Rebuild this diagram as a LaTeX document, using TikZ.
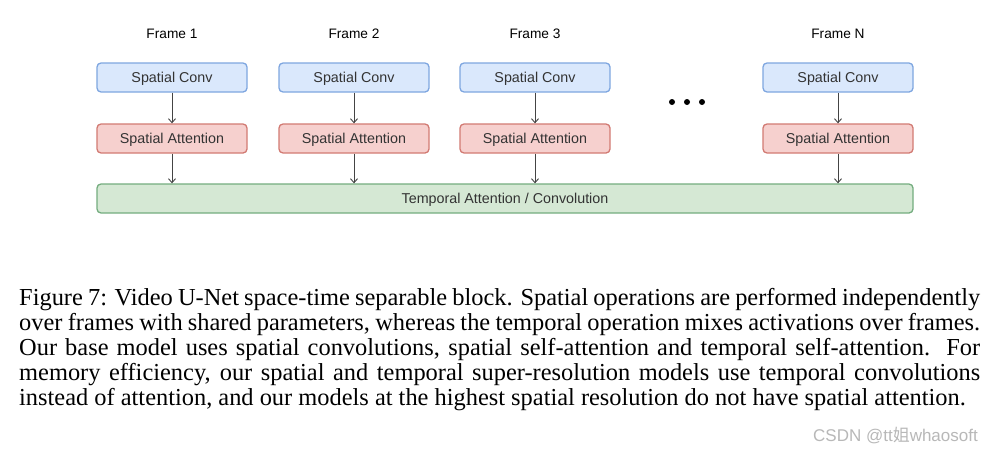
\documentclass[tikz,border=0pt]{standalone}
\usepackage{fontspec}
\setmainfont{Liberation Serif}
\newfontfamily\diagfont{Liberation Sans}
\newfontfamily\cjkfont{Noto Sans CJK SC}
\usetikzlibrary{arrows.meta}
\definecolor{convfill}{HTML}{DAE8FC}
\definecolor{convdraw}{HTML}{7EA6E0}
\definecolor{attfill}{HTML}{F6D0CE}
\definecolor{attdraw}{HTML}{D27A73}
\definecolor{tempfill}{HTML}{D5E8D4}
\definecolor{tempdraw}{HTML}{74AD7F}
\definecolor{txtgray}{HTML}{333333}
\definecolor{arrgray}{HTML}{444444}
\definecolor{wmgray}{HTML}{B8B8B8}
\begin{document}
\begin{tikzpicture}[x=1pt,y=-1pt,
  boxbase/.style={rounded corners=4pt, line width=1.3pt, minimum width=150pt, minimum height=29pt,
    inner sep=0pt, text height=10.5pt, text depth=0pt, font=\diagfont\fontsize{14.3}{16}\selectfont, text=txtgray},
  convbox/.style={boxbase, fill=convfill, draw=convdraw},
  attbox/.style={boxbase, fill=attfill, draw=attdraw},
  tempbox/.style={boxbase, fill=tempfill, draw=tempdraw, minimum width=816pt},
  framelabel/.style={font=\diagfont\fontsize{13.7}{16}\selectfont, text=black, inner sep=0pt, text height=10pt, text depth=0pt},
  conn/.style={draw=arrgray, line width=0.9pt, -{Straight Barb[length=4pt,width=7pt]}},
  dotmark/.style={circle, fill=black, inner sep=0pt, minimum size=6pt},
  capline/.style={anchor=base west, inner sep=0pt, text=black, font=\fontsize{24.4}{25}\selectfont}
]
\useasboundingbox (0,0) rectangle (998,450);
\fill[white] (0,0) rectangle (998,450);

% frame labels
\node[framelabel] (f1) at (172,33) {Frame 1};
\node[framelabel] (f2) at (354,33) {Frame 2};
\node[framelabel] (f3) at (535,33) {Frame 3};
\node[framelabel] (fn) at (838,33) {Frame N};

% spatial conv
\node[convbox] (c1) at (172,77.5) {Spatial Conv};
\node[convbox] (c2) at (354,77.5) {Spatial Conv};
\node[convbox] (c3) at (535,77.5) {Spatial Conv};
\node[convbox] (cn) at (838,77.5) {Spatial Conv};

% spatial attention
\node[attbox] (a1) at (172,138.5) {Spatial Attention};
\node[attbox] (a2) at (354,138.5) {Spatial Attention};
\node[attbox] (a3) at (535,138.5) {Spatial Attention};
\node[attbox] (an) at (838,138.5) {Spatial Attention};

% temporal
\node[tempbox] (t) at (505,198.5) {Temporal Attention / Convolution};

% dots
\node[dotmark] (d1) at (672,102) {};
\node[dotmark] (d2) at (687,102) {};
\node[dotmark] (d3) at (702,102) {};

% arrows
\foreach \i in {1,2,3,n}{
  \draw[conn] (c\i.south) -- (a\i.north);
  \draw[conn] (a\i.south) -- (a\i.south |- t.north);
}

% caption
\node[capline] (cap1) at (19,305) {\makebox[961pt][s]{Figure 7: Video U-Net space-time separable block. Spatial operations are performed independently}};
\node[capline] (cap2) at (19,330) {\makebox[961pt][s]{over frames with shared parameters, whereas the temporal operation mixes activations over frames.}};
\node[capline] (cap3) at (19,355) {\makebox[961pt][s]{Our base model uses spatial convolutions, spatial self-attention and temporal self-attention.\ \ For}};
\node[capline] (cap4) at (19,380) {\makebox[961pt][s]{memory efficiency, our spatial and temporal super-resolution models use temporal convolutions}};
\node[capline] (cap5) at (19,405) {instead of attention, and our models at the highest spatial resolution do not have spatial attention.};

% watermark
\node[anchor=base east, inner sep=0pt, text=wmgray, font=\diagfont\fontsize{17}{19}\selectfont] (wm) at (978,441) {CSDN @tt{\cjkfont 姐}whaosoft};
\end{tikzpicture}
\end{document}
